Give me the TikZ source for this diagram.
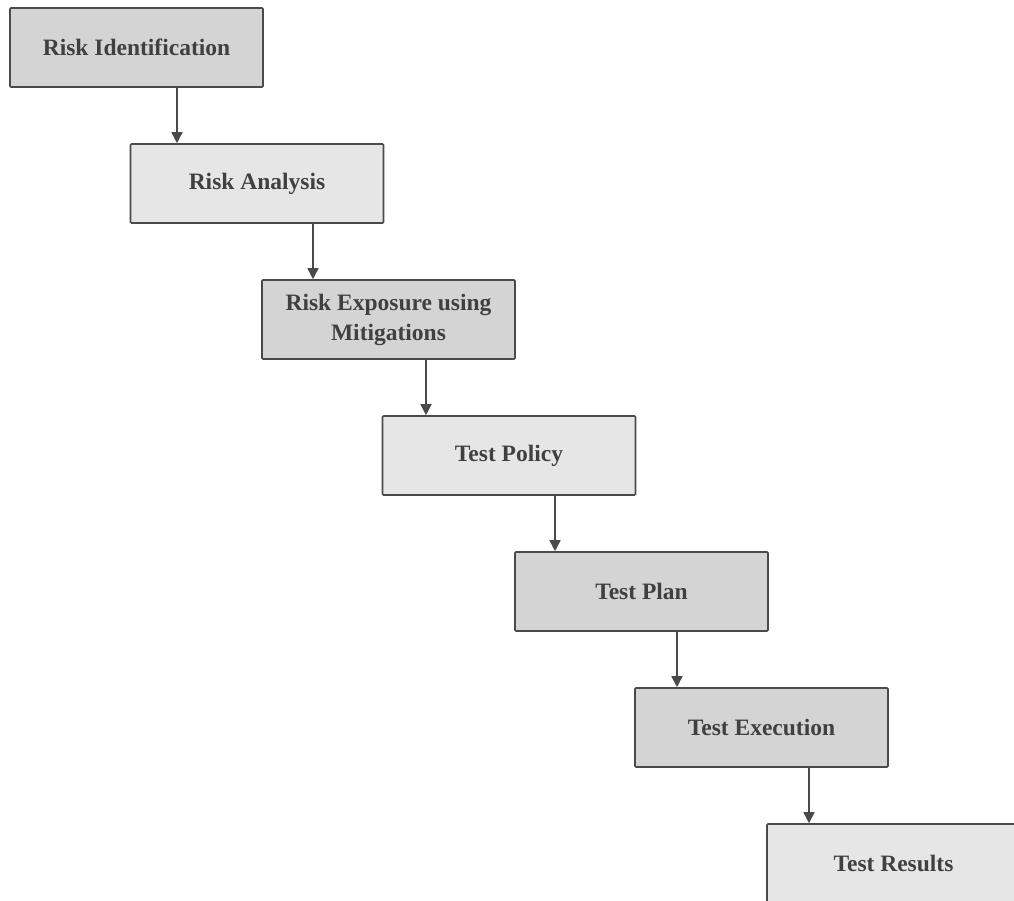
\documentclass[tikz,border=0pt]{standalone}
\usepackage{fontspec}
\setmainfont{Liberation Serif}
\usetikzlibrary{arrows.meta}
\definecolor{boxdark}{HTML}{D4D4D4}
\definecolor{boxlight}{HTML}{E6E6E6}
\definecolor{edge}{HTML}{4A4A4A}
\definecolor{ink}{HTML}{404040}
\begin{document}
\begin{tikzpicture}[x=1pt,y=-1pt,
  stage/.style={draw=edge, line width=1.6pt, rounded corners=1pt,
    minimum width=253pt, minimum height=79pt, inner sep=0pt,
    align=center, text=ink, font=\fontsize{23.5}{30}\selectfont\bfseries},
  darkstage/.style={stage, fill=boxdark},
  lightstage/.style={stage, fill=boxlight},
  arr/.style={draw=edge, line width=1.6pt,
    -{Triangle[length=11pt,width=11pt]}}]
\useasboundingbox (0,0) rectangle (1014,900);
\begin{scope}
\clip (0,0) rectangle (1014,900);
\node[darkstage]  (b1) at (136.5,47.5)  {Risk Identification};
\node[lightstage] (b2) at (257,183.5)   {Risk Analysis};
\node[darkstage]  (b3) at (388.5,319.5) {Risk Exposure using\\Mitigations};
\node[lightstage] (b4) at (509,455.5)   {Test Policy};
\node[darkstage]  (b5) at (641.5,591.5) {Test Plan};
\node[darkstage]  (b6) at (761.5,727.5) {Test Execution};
\node[lightstage] (b7) at (893.5,863.5) {Test Results};
\end{scope}
\draw[arr] (b1.south -| 177,0) -- (b2.north -| 177,0);
\draw[arr] (b2.south -| 313,0) -- (b3.north -| 313,0);
\draw[arr] (b3.south -| 426,0) -- (b4.north -| 426,0);
\draw[arr] (b4.south -| 555,0) -- (b5.north -| 555,0);
\draw[arr] (b5.south -| 677,0) -- (b6.north -| 677,0);
\draw[arr] (b6.south -| 809,0) -- (b7.north -| 809,0);
\end{tikzpicture}
\end{document}
